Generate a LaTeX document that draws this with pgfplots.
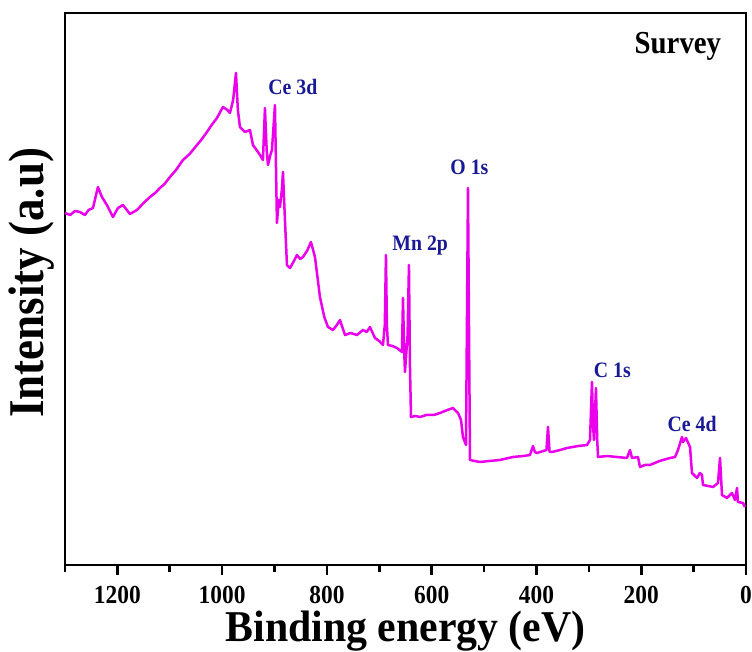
\documentclass[border=0pt]{standalone}
\usepackage{fontspec}
\setmainfont{Liberation Serif}[FakeStretch=0.9]
\newfontfamily\labfont{Liberation Serif}[FakeStretch=0.95]
\usepackage{pgfplots}
\pgfplotsset{compat=1.18}
\definecolor{mag}{RGB}{235,0,235}
\definecolor{lblue}{RGB}{25,25,150}
\begin{document}
\begin{tikzpicture}
\useasboundingbox (0,0) rectangle (752pt,652pt);
\begin{axis}[
 at={(65pt,87pt)}, anchor=south west,
 scale only axis, width=681pt, height=552pt,
 xmin=0, xmax=1300, ymin=0, ymax=552, x dir=reverse,
 xtick={0,200,...,1200}, minor xtick={100,300,...,1300},
 ytick=\empty,
 axis line style={line width=2.8pt},
 tick style={black, line width=2.6pt},
 major tick length=10pt, minor tick length=7pt,
 xtick pos=bottom, tick align=outside,
 xticklabel style={font=\bfseries\fontsize{26}{26}\selectfont, anchor=center, yshift=-20pt},
 /pgf/number format/assume math mode=true,
 /pgf/number format/1000 sep={},
 xlabel={Binding energy (eV)},
 xlabel style={font=\labfont\bfseries\fontsize{44}{44}\selectfont, at={(axis description cs:0.5,-0.1395)}, anchor=base},
 ylabel={Intensity (a.u)},
 ylabel style={font=\bfseries\fontsize{50}{50}\selectfont, at={(axis description cs:-0.0485,0.511)}, anchor=center},
 clip=false,
]
\addplot[mag, line width=2.5pt, line join=round] table {
x y
1300.0 352
1290 350
1281 354
1271.5 353
1262 350
1255 355
1246.6 357
1237.1 378
1229.5 368
1220 360
1208.5 348
1198.9 357
1189.4 360
1176.0 351
1162.6 355
1150 362
1137.8 368
1128 372
1118.7 377
1110 381
1099.6 388
1088 395
1074.8 405
1062 411
1048.1 420
1040 425
1029.0 433
1020 440
1009.9 447
998.5 458
990 455
985.1 452
979 465
973.6 492
970 455
966.0 438
956.5 433
946.9 435
941.2 420
933 414
927.8 410
922.1 405
918.3 457
915 415
912.5 400
908 410
904.9 415
899.2 460
895.4 342
892 365
889.6 358
886 375
883.9 393
880.1 345
876.3 300
870.5 297
864 303
857.2 310
851 306
845.7 308
838 314
830.5 323
822.8 308
813.3 268
805 248
798.0 238
788.5 235
781 240
775.1 245
765.5 230
755 232
742.6 230
731.2 235
724 233
717.8 238
708.3 227
700 224
693.0 220
689.5 240
687.3 310
685.5 240
683.5 220
675 219
666.3 217
656.7 213
654.8 267
652.5 214
651.0 193
646 230
643.4 300
641.5 200
639.5 148
631 149
622.4 148
610 150
596 150
584.2 152
570 155
559.4 157
549.8 152
544 145
540.3 128
534.5 120
530.7 377
526.9 105
518 104
507.8 103
490 104
470 105
444.8 108
425 109
412.4 110
406.6 119
403 113
399.0 112
380.9 115
378.0 138
375 113
370.4 113
355 115
341.7 117
320 119
303.5 120
297.8 125
294.0 183
292 140
290.2 125
286.4 177
284 125
282.5 108
265 109
246.3 108
227.2 107
221.5 115
217.6 107
206.2 108
202.4 98
193 100
183.3 100
165 104
145.1 107
135.5 108
129.8 115
122.2 128
120.3 123
114.5 127
106.9 118
103.1 92
93.5 87
88 92
84.0 90
82.1 80
72 79
63.0 78
53.5 82
49.6 107
45.8 70
36.3 67
26.7 72
21.0 65
17.2 77
15.3 63
5.7 62
1.9 58
};
\node[font=\bfseries\fontsize{32}{32}\selectfont, text=black] at (axis cs:130,519) {Survey};
\node[font=\bfseries\fontsize{22}{22}\selectfont, text=lblue] at (axis cs:865,478) {Ce 3d};
\node[font=\bfseries\fontsize{22}{22}\selectfont, text=lblue] at (axis cs:528,398) {O 1s};
\node[font=\bfseries\fontsize{22}{22}\selectfont, text=lblue] at (axis cs:622,319) {Mn 2p};
\node[font=\bfseries\fontsize{22}{22}\selectfont, text=lblue] at (axis cs:255,195) {C 1s};
\node[font=\bfseries\fontsize{22}{22}\selectfont, text=lblue] at (axis cs:103,141) {Ce 4d};
\end{axis}
\end{tikzpicture}
\end{document}
